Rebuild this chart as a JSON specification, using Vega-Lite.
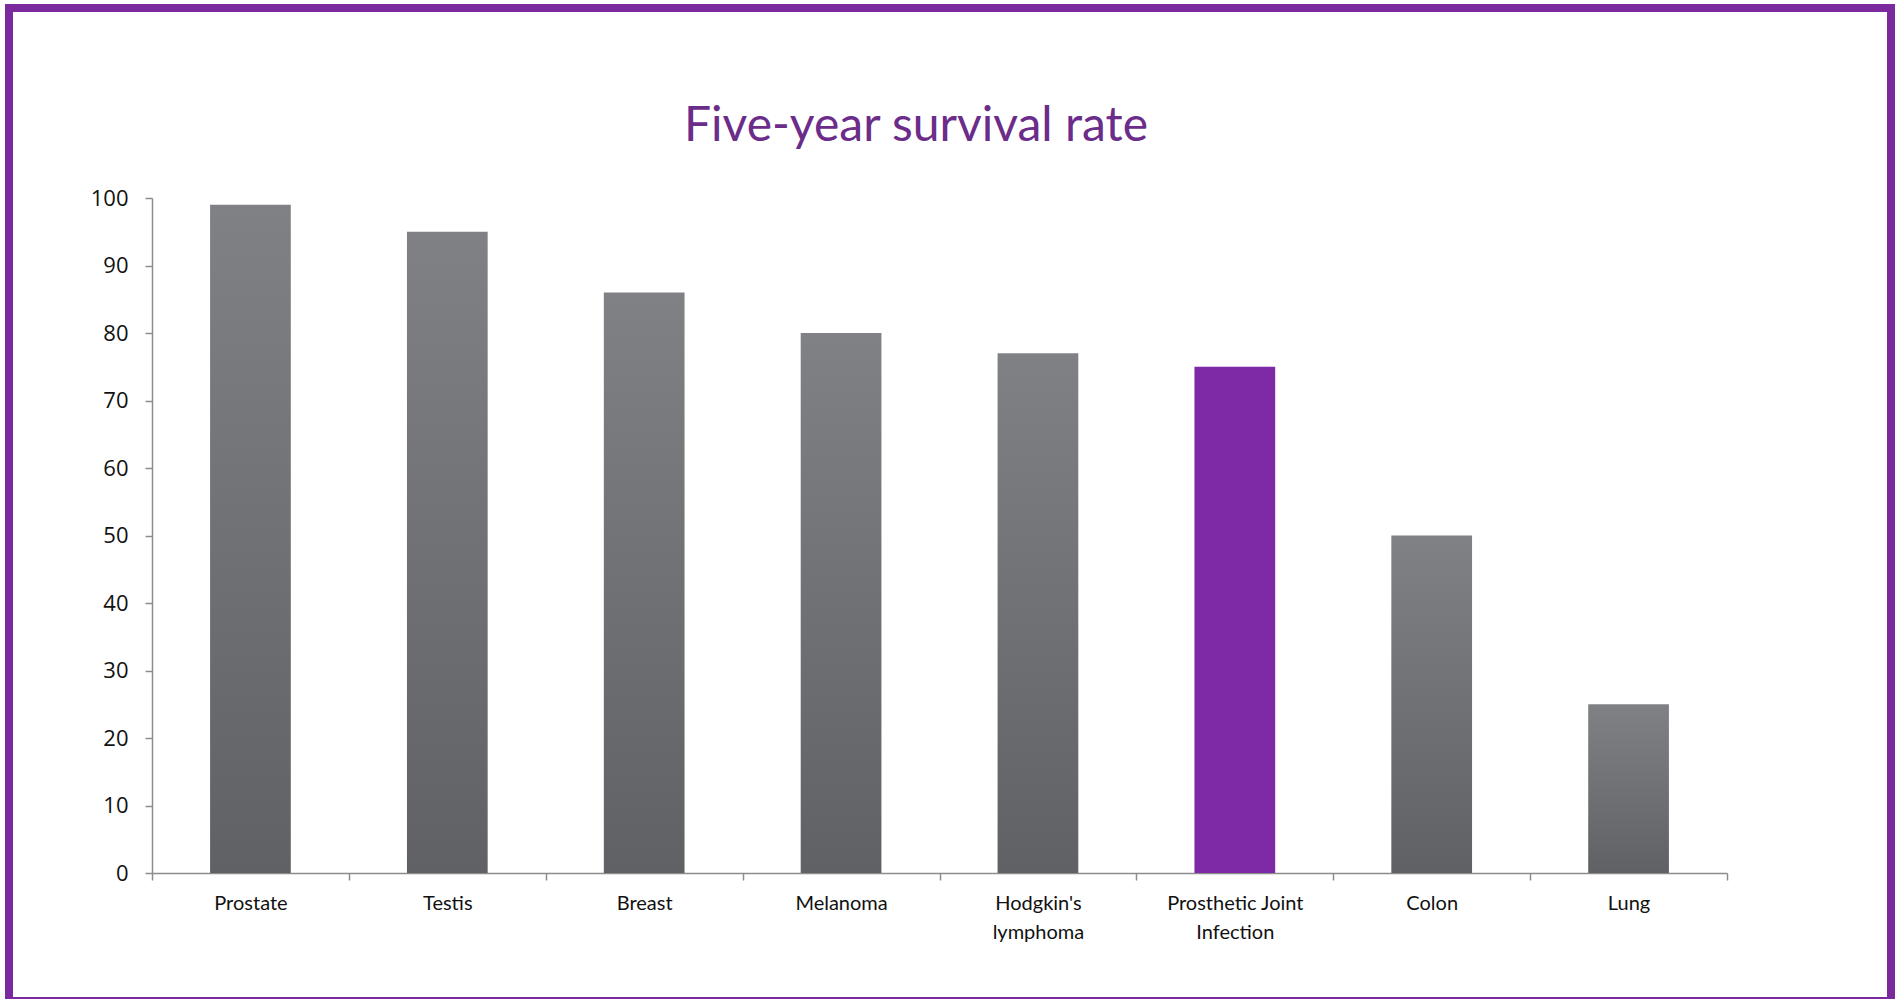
{
  "$schema": "https://vega.github.io/schema/vega-lite/v6.json",
  "autosize": "none",
  "padding": {"left": 9, "top": 8, "right": 7, "bottom": 0},
  "width": 1882,
  "height": 993,
  "background": "white",
  "config": {
    "view": {"stroke": "#7b2a9e", "strokeWidth": 8, "fill": "white"}
  },
  "title": {
    "text": "Five-year survival rate",
    "font": "Lato",
    "fontSize": 48,
    "fontWeight": "normal",
    "color": "#6b2c8a",
    "anchor": "middle",
    "dx": -34,
    "offset": -143
  },
  "data": {
    "values": [
      {"site": "Prostate", "rate": 99, "group": "cancer"},
      {"site": "Testis", "rate": 95, "group": "cancer"},
      {"site": "Breast", "rate": 86, "group": "cancer"},
      {"site": "Melanoma", "rate": 80, "group": "cancer"},
      {"site": "Hodgkin's lymphoma", "rate": 77, "group": "cancer"},
      {"site": "Prosthetic Joint Infection", "rate": 75, "group": "PJI"},
      {"site": "Colon", "rate": 50, "group": "cancer"},
      {"site": "Lung", "rate": 25, "group": "cancer"}
    ]
  },
  "mark": {"type": "bar", "width": {"band": 0.41}},
  "encoding": {
    "x": {
      "field": "site",
      "type": "nominal",
      "sort": null,
      "scale": {"range": [143, 1718], "paddingInner": 0, "paddingOuter": 0},
      "axis": {
        "title": null,
        "offset": -128,
        "labelAngle": 0,
        "labelFont": "Lato",
        "labelFontSize": 20,
        "labelColor": "#111111",
        "labelPadding": 13,
        "labelLineHeight": 29,
        "labelExpr": "datum.label == 'Prosthetic Joint Infection' ? ['Prosthetic Joint', 'Infection'] : datum.label == \"Hodgkin's lymphoma\" ? [\"Hodgkin's\", 'lymphoma'] : datum.label",
        "tickBand": "extent",
        "tickSize": 7,
        "tickColor": "#8c8c8c",
        "tickWidth": 1.5,
        "domainColor": "#8c8c8c",
        "domainWidth": 1.5,
        "grid": false
      }
    },
    "y": {
      "field": "rate",
      "type": "quantitative",
      "scale": {"domain": [0, 100], "range": [865, 190], "nice": false},
      "axis": {
        "title": null,
        "offset": -143,
        "values": [0, 10, 20, 30, 40, 50, 60, 70, 80, 90, 100],
        "labelFont": "Open Sans",
        "labelFontSize": 22,
        "labelColor": "#111111",
        "labelPadding": 17,
        "tickSize": 7,
        "tickColor": "#8c8c8c",
        "tickWidth": 1.5,
        "domainColor": "#8c8c8c",
        "domainWidth": 1.5,
        "grid": false
      }
    },
    "fill": {
      "condition": {"test": "datum.group === 'PJI'", "value": "#7e2aa6"},
      "value": {
        "gradient": "linear",
        "x1": 0, "y1": 0, "x2": 0, "y2": 1,
        "stops": [
          {"offset": 0, "color": "#808185"},
          {"offset": 1, "color": "#5f6165"}
        ]
      }
    }
  }
}
